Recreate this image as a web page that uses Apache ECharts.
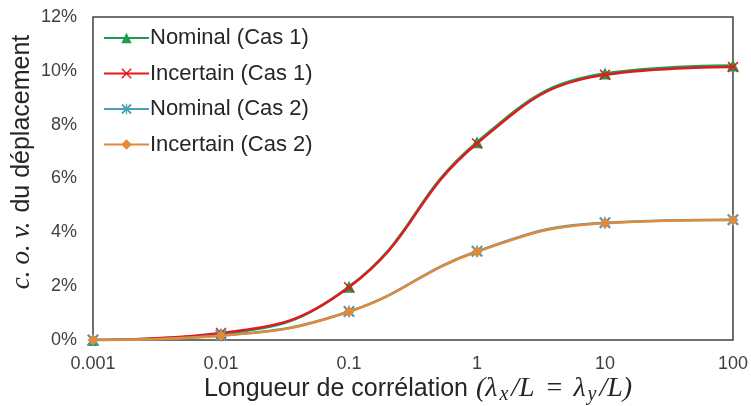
<!DOCTYPE html>
<html>
<head>
<meta charset="utf-8">
<script src="https://cdn.jsdelivr.net/npm/echarts@6/dist/echarts.min.js"></script>
<style>html,body{margin:0;padding:0;background:#fff}#c{width:751px;height:406px}</style>
</head>
<body>
<div id="c"></div>
<script>
const xValues = [0.001, 0.01, 0.1, 1, 10, 100];
const xTickLabels = ['0.001', '0.01', '0.1', '1', '10', '100'];
const seriesNames = ['Nominal (Cas 1)', 'Incertain (Cas 1)', 'Nominal (Cas 2)', 'Incertain (Cas 2)'];
const nominalCas1 = [0, 0.22, 1.98, 7.35, 9.9, 10.2];
const incertainCas1 = [0, 0.26, 1.96, 7.3, 9.85, 10.14];
const nominalCas2 = [0, 0.17, 1.06, 3.3, 4.36, 4.47];
const incertainCas2 = [0, 0.16, 1.05, 3.28, 4.34, 4.46];
const yTicks = [0, 2, 4, 6, 8, 10, 12];

const crossPath = 'path://M0,1 L1,0 L5,4 L9,0 L10,1 L6,5 L10,9 L9,10 L5,6 L1,10 L0,9 L4,5 Z';
const starPath = 'path://M0,1.3 L1.3,0 L5,3.7 L8.7,0 L10,1.3 L6.3,5 L10,8.7 L8.7,10 L5,6.3 L1.3,10 L0,8.7 L3.7,5 Z M4.4,0 L5.6,0 L5.6,10 L4.4,10 Z';

function pairs(vals) { return xValues.map((x, i) => [x, vals[i]]); }

const colors = ['#1f9d4e', '#e3191f', '#4b9fba', '#e08a3a'];
const symbols = ['triangle', crossPath, starPath, 'diamond'];
const sizes = [12, 11, 12, 11];
const datasets = [nominalCas1, incertainCas1, nominalCas2, incertainCas2];

const chart = echarts.init(document.getElementById('c'));
chart.setOption({
  animation: false,
  backgroundColor: '#fff',
  grid: { left: 93, right: 15, top: 17, bottom: 66, show: true, borderColor: '#404040', borderWidth: 1.5, backgroundColor: 'transparent' },
  legend: {
    orient: 'vertical', left: 98, top: 22,
    itemWidth: 45, itemHeight: 13, itemGap: 13.5,
    textStyle: { fontFamily: 'Liberation Sans', fontSize: 22, color: '#262626', lineHeight: 22, padding: [0,0,0,-4] },
    data: seriesNames
  },
  xAxis: {
    type: 'log', logBase: 10, min: 0.001, max: 100,
    axisLine: { show: false }, axisTick: { show: false }, splitLine: { show: false }, minorTick: { show: false },
    axisLabel: {
      margin: 15, fontFamily: 'Liberation Sans', fontSize: 18, color: '#404040',
      formatter: function (v) {
        const i = xValues.findIndex(x => Math.abs(Math.log10(x) - Math.log10(v)) < 1e-6);
        return i >= 0 ? xTickLabels[i] : '';
      }
    }
  },
  yAxis: {
    type: 'value', min: 0, max: 12, interval: 2,
    axisLine: { show: false }, axisTick: { show: false }, splitLine: { show: false },
    axisLabel: { margin: 16, fontFamily: 'Liberation Sans', fontSize: 18, color: '#404040', formatter: v => (yTicks.includes(v) ? v + '%' : '') }
  },
  graphic: [
    {
      type: 'text', x: 22, y: 162, rotation: Math.PI / 2,
      style: {
        text: '{m|c.}{m|o.}{n|v.}{t| du déplacement}',
        align: 'center', verticalAlign: 'middle', fill: '#262626',
        rich: {
          m: { fontFamily: 'Liberation Serif', fontStyle: 'italic', fontSize: 27, fill: '#262626', padding: [0, 6, 0, 0] },
          n: { fontFamily: 'Liberation Serif', fontStyle: 'italic', fontSize: 27, fill: '#262626', padding: [0, 2, 0, 0] },
          t: { fontFamily: 'Liberation Sans', fontSize: 25, fill: '#262626' }
        }
      }
    },
    {
      type: 'text', x: 419, y: 389,
      style: {
        text: '{t|Longueur de corrélation }{m|(λ}{s|x}{m|/L}{e|=}{m|λ}{s|y}{m|/L)}',
        align: 'center', verticalAlign: 'middle', fill: '#262626',
        rich: {
          t: { fontFamily: 'Liberation Sans', fontSize: 25, fill: '#262626' },
          m: { fontFamily: 'Liberation Serif', fontStyle: 'italic', fontSize: 28, fill: '#262626', padding: [0, 2, 0, 1] },
          e: { fontFamily: 'Liberation Serif', fontSize: 28, fill: '#262626', padding: [0, 10, 0, 10] },
          s: { fontFamily: 'Liberation Serif', fontStyle: 'italic', fontSize: 20, fill: '#262626', padding: [11, 2, 0, 0] }
        }
      }
    }
  ],
  series: datasets.map((d, i) => ({
    name: seriesNames[i], type: 'line', data: pairs(d), smooth: 0.45,
    symbol: symbols[i], symbolSize: sizes[i], showSymbol: true,
    lineStyle: { color: colors[i], width: 2.5 },
    itemStyle: { color: colors[i] },
    z: 2 + i
  }))
});
</script>
</body>
</html>
